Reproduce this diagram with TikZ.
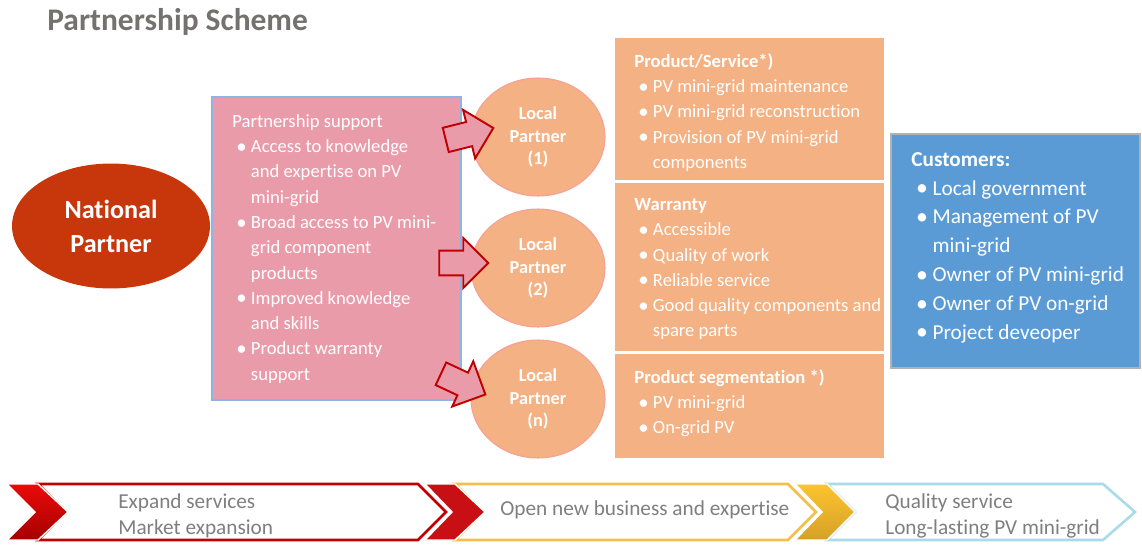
\documentclass[tikz,border=0pt]{standalone}
\usepackage{fontspec}
\usepackage{graphicx}
\setmainfont{Carlito}[Ligatures=NoCommon]
\usetikzlibrary{shapes.geometric,shapes.arrows}

\definecolor{natred}{RGB}{200,55,12}
\definecolor{suppink}{RGB}{234,155,170}
\definecolor{supedge}{RGB}{143,180,227}
\definecolor{peach}{RGB}{244,177,131}
\definecolor{peachedge}{RGB}{246,160,150}
\definecolor{custblue}{RGB}{91,155,213}
\definecolor{arrowred}{RGB}{192,0,0}
\definecolor{titlegray}{RGB}{118,113,113}
\definecolor{stepgray}{RGB}{127,127,127}
\definecolor{stepred}{RGB}{200,16,20}
\definecolor{redtop}{RGB}{235,10,10}
\definecolor{redbot}{RGB}{165,0,0}
\definecolor{stepgold}{RGB}{245,190,74}
\definecolor{goldtop}{RGB}{252,196,46}
\definecolor{goldbot}{RGB}{214,160,40}
\definecolor{stepblue}{RGB}{170,219,232}

% bullet and hanging indent for the lists
\newcommand{\bul}{\hspace*{0.22em}\makebox[0.78em][l]{\raisebox{-0.03em}{\scalebox{1.12}{\textbullet}}}}
\newcommand{\ind}{\hspace*{1em}}

\begin{document}
\begin{tikzpicture}[x=0.02cm, y=-0.02cm,
    txt/.style={anchor=north west, inner sep=0pt, align=left, text=white,
      font=\fontsize{10.6}{14.4}\selectfont},
    bigtxt/.style={txt, font=\fontsize{12.1}{16.4}\selectfont},
    steptxt/.style={anchor=north west, inner sep=0pt, align=left, text=stepgray,
      font=\fontsize{12.1}{14.7}\selectfont},
    partner/.style={ellipse, fill=peach, draw=peachedge, line width=0.6pt,
      text=white, align=center, inner sep=0pt, minimum width=2.68cm,
      minimum height=2.36cm, font=\bfseries\fontsize{10.4}{13}\selectfont},
    blockarrow/.style={single arrow, draw=arrowred, fill=suppink, line width=1.1pt,
      minimum height=0.98cm, inner xsep=0pt, inner ysep=0.23cm,
      single arrow head extend=0.25cm, single arrow head indent=0pt},
    chevline/.style={fill=white, line width=1.5pt},
    chevfill/.style={draw=white, line width=0.8pt}]
  \useasboundingbox (0,0) rectangle (1142,544);

  % title
  \node[anchor=base west, inner sep=0pt, text=titlegray,
    font=\bfseries\fontsize{17.9}{20}\selectfont] (title) at (47,31) {Partnership Scheme};

  % national partner
  \node[ellipse, fill=natred, text=white, align=center, inner sep=0pt,
    minimum width=3.96cm, minimum height=2.5cm,
    font=\bfseries\fontsize{14.9}{19.3}\selectfont] (national) at (111,226) {National\\Partner};

  % partnership support
  \filldraw[fill=suppink, draw=supedge, line width=0.6pt] (212,97) rectangle (461,400);
  \node[txt] (support) at (232,114) {Partnership support\\
    \bul Access to knowledge\\
    \ind and expertise on PV\\
    \ind mini-grid\\
    \bul Broad access to PV mini-\\
    \ind grid component\\
    \ind products\\
    \bul Improved knowledge\\
    \ind and skills\\
    \bul Product warranty\\
    \ind support};

  % local partners
  \node[partner] (local1) at (538,137) {Local\\Partner\\(1)};
  \node[partner] (local2) at (538,268) {Local\\Partner\\(2)};
  \node[partner] (localn) at (538,399) {Local\\Partner\\(n)};

  \node[blockarrow, rotate=14] (push1) at (463.5,135.5) {};
  \node[blockarrow] (push2) at (457.5,263) {};
  \node[blockarrow, rotate=-25] (pushn) at (457.5,381.5) {};

  % product, warranty, segmentation
  \fill[peach] (615,38) rectangle (884,180);
  \fill[peach] (615,183) rectangle (884,351);
  \fill[peach] (615,354) rectangle (884,458);
  \node[txt] (service) at (634,53) {\textbf{Product/Service*)}\\
    \bul PV mini-grid maintenance\\
    \bul PV mini-grid reconstruction\\
    \bul Provision of PV mini-grid\\
    \ind components};
  \node[txt] (warranty) at (634,198) {\textbf{Warranty}\\
    \bul Accessible\\
    \bul Quality of work\\
    \bul Reliable service\\
    \bul Good quality components and\\
    \ind spare parts};
  \node[txt] (segment) at (634,369) {\textbf{Product segmentation *)}\\
    \bul PV mini-grid\\
    \bul On-grid PV};

  % customers
  \filldraw[fill=custblue, draw=black!30, line width=0.6pt] (891,134) rectangle (1140,368);
  \node[bigtxt] (customers) at (911,152) {\textbf{Customers:}\\
    \bul Local government\\
    \bul Management of PV\\
    \ind mini-grid\\
    \bul Owner of PV mini-grid\\
    \bul Owner of PV on-grid\\
    \bul Project deveoper};

  % process band
  \filldraw[chevline, draw=arrowred] (38,484) -- (418,484) -- (446,512) -- (418,540) -- (38,540) -- (66,512) -- cycle;
  \filldraw[chevline, draw=stepgold] (455,484) -- (788,484) -- (816,512) -- (788,540) -- (455,540) -- (483,512) -- cycle;
  \filldraw[chevline, draw=stepblue] (827,484) -- (1103,484) -- (1135,512) -- (1103,540) -- (827,540) -- (855,512) -- cycle;

  \shadedraw[chevfill, top color=redtop, bottom color=redbot] (7,484) -- (38,484) -- (68,512) -- (38,540) -- (7,540) -- (35,512) -- cycle;
  \filldraw[chevfill, fill=stepred] (425,484) -- (455,484) -- (485,512) -- (455,540) -- (425,540) -- (452,512) -- cycle;
  \shadedraw[chevfill, top color=goldtop, bottom color=goldbot] (795,484) -- (827,484) -- (855,512) -- (827,540) -- (795,540) -- (822,512) -- cycle;

  \node[steptxt] (expand) at (118,493.5) {Expand services\\Market expansion};
  \node[steptxt] (business) at (500,500.5) {Open new business and expertise};
  \node[steptxt] (quality) at (885,493.5) {Quality service\\Long-lasting PV mini-grid};
\end{tikzpicture}
\end{document}
